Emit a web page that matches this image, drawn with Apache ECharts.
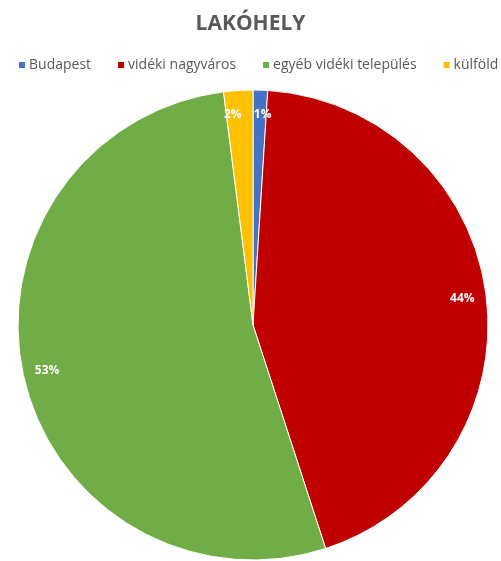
<!DOCTYPE html>
<html>
<head>
<meta charset="utf-8">
<script src="https://cdn.jsdelivr.net/npm/echarts@6/dist/echarts.min.js"></script>
<style>
  html, body { margin: 0; padding: 0; background: #fff; }
  #chart { width: 501px; height: 561px; }
</style>
</head>
<body>
<div id="chart"></div>
<script>
// Lakóhely megoszlása (%)
const categories = ['Budapest', 'vidéki nagyváros', 'egyéb vidéki település', 'külföld'];
const shares = [1, 44, 53, 2];
const colors = ['#4472C4', '#C00000', '#70AD47', '#FFC000'];

const pieData = categories.map((name, i) => ({ name, value: shares[i] }));

const FONT = 'Open Sans';
const CX = 253, CY = 325, R = 235;

const chart = echarts.init(document.getElementById('chart'), null, { renderer: 'canvas' });
chart.setOption({
  animation: false,
  color: colors,
  title: {
    text: 'LAKÓHELY',
    left: 'center',
    top: 9,
    textStyle: { fontFamily: FONT, fontSize: 21, fontWeight: 'bold', color: '#595959' }
  },
  legend: {
    data: categories,
    left: 17,
    top: 58,
    width: 484,
    padding: 0,
    itemWidth: 8,
    itemHeight: 8,
    itemGap: 25,
    icon: 'rect',
    textStyle: { fontFamily: FONT, fontSize: 14, color: '#595959', padding: [0, 0, 0, -2] }
  },
  series: [
    {
      type: 'pie',
      center: [CX, CY],
      radius: [0, R],
      startAngle: 90,
      clockwise: true,
      data: pieData,
      label: { show: false },
      labelLine: { show: false },
      itemStyle: { borderColor: '#ffffff', borderWidth: 1 },
      emphasis: { disabled: true }
    },
    {
      // label ring: places the percentages near the outer edge
      type: 'pie',
      center: [CX, CY],
      radius: [181, R],
      startAngle: 90,
      clockwise: true,
      silent: true,
      data: pieData,
      itemStyle: { color: 'rgba(0,0,0,0)' },
      label: {
        show: true,
        position: 'inside',
        formatter: p => p.value + '%',
        fontFamily: FONT,
        fontSize: 12,
        fontWeight: 'bold',
        color: '#ffffff'
      },
      // keep the two narrow top slices' labels apart
      labelLayout: p => ({
        hideOverlap: false,
        dx: p.dataIndex === 3 ? -7 : (p.dataIndex === 0 ? 3 : 0)
      }),
      labelLine: { show: false },
      emphasis: { disabled: true }
    }
  ]
});
</script>
</body>
</html>
